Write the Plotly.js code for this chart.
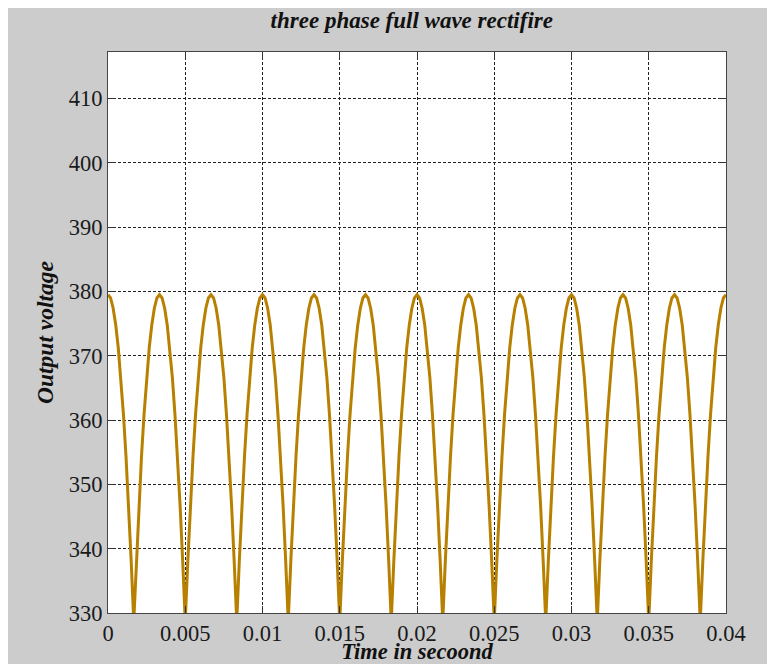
<!DOCTYPE html>
<html>
<head>
<meta charset="utf-8">
<script src="https://cdn.plot.ly/plotly-3.0.1.min.js"></script>
<style>
  html, body { margin: 0; padding: 0; background: #ffffff; }
  #chart { position: absolute; left: 8px; top: 8px; width: 759px; height: 656px; }
</style>
</head>
<body>
<div id="chart"></div>
<script>
// Sample time step (s): 20 samples per ripple period of the 6-pulse output
const sampleStep = 0.04 / 240;

// Output voltage samples (V), starting at t = 0
const outputVoltage = [
  379.5, 379.0, 377.4, 374.8, 371.2, 366.6, 360.9, 354.3, 346.7, 338.1, 328.7, 338.1, 346.7, 354.3, 360.9, 366.6, 371.2, 374.8, 377.4, 379.0,
  379.5, 379.0, 377.4, 374.8, 371.2, 366.6, 360.9, 354.3, 346.7, 338.1, 328.7, 338.1, 346.7, 354.3, 360.9, 366.6, 371.2, 374.8, 377.4, 379.0,
  379.5, 379.0, 377.4, 374.8, 371.2, 366.6, 360.9, 354.3, 346.7, 338.1, 328.7, 338.1, 346.7, 354.3, 360.9, 366.6, 371.2, 374.8, 377.4, 379.0,
  379.5, 379.0, 377.4, 374.8, 371.2, 366.6, 360.9, 354.3, 346.7, 338.1, 328.7, 338.1, 346.7, 354.3, 360.9, 366.6, 371.2, 374.8, 377.4, 379.0,
  379.5, 379.0, 377.4, 374.8, 371.2, 366.6, 360.9, 354.3, 346.7, 338.1, 328.7, 338.1, 346.7, 354.3, 360.9, 366.6, 371.2, 374.8, 377.4, 379.0,
  379.5, 379.0, 377.4, 374.8, 371.2, 366.6, 360.9, 354.3, 346.7, 338.1, 328.7, 338.1, 346.7, 354.3, 360.9, 366.6, 371.2, 374.8, 377.4, 379.0,
  379.5, 379.0, 377.4, 374.8, 371.2, 366.6, 360.9, 354.3, 346.7, 338.1, 328.7, 338.1, 346.7, 354.3, 360.9, 366.6, 371.2, 374.8, 377.4, 379.0,
  379.5, 379.0, 377.4, 374.8, 371.2, 366.6, 360.9, 354.3, 346.7, 338.1, 328.7, 338.1, 346.7, 354.3, 360.9, 366.6, 371.2, 374.8, 377.4, 379.0,
  379.5, 379.0, 377.4, 374.8, 371.2, 366.6, 360.9, 354.3, 346.7, 338.1, 328.7, 338.1, 346.7, 354.3, 360.9, 366.6, 371.2, 374.8, 377.4, 379.0,
  379.5, 379.0, 377.4, 374.8, 371.2, 366.6, 360.9, 354.3, 346.7, 338.1, 328.7, 338.1, 346.7, 354.3, 360.9, 366.6, 371.2, 374.8, 377.4, 379.0,
  379.5, 379.0, 377.4, 374.8, 371.2, 366.6, 360.9, 354.3, 346.7, 338.1, 328.7, 338.1, 346.7, 354.3, 360.9, 366.6, 371.2, 374.8, 377.4, 379.0,
  379.5, 379.0, 377.4, 374.8, 371.2, 366.6, 360.9, 354.3, 346.7, 338.1, 328.7, 338.1, 346.7, 354.3, 360.9, 366.6, 371.2, 374.8, 377.4, 379.0,
  379.5
];

const xTickVals = [0, 0.005, 0.01, 0.015, 0.02, 0.025, 0.03, 0.035, 0.04];
const xTickText = ['0', '0.005', '0.01', '0.015', '0.02', '0.025', '0.03', '0.035', '0.04'];
const yTickVals = [330, 340, 350, 360, 370, 380, 390, 400, 410];
const yTickText = ['330', '340', '350', '360', '370', '380', '390', '400', '410'];

const chartTitle = 'three phase full wave rectifire';
const xTitle = 'Time in secoond';
const yTitle = 'Output voltage';

const serif = '"Liberation Serif", "Times New Roman", serif';

const trace = {
  type: 'scatter',
  mode: 'lines',
  x0: 0,
  dx: sampleStep,
  y: outputVoltage,
  line: { color: 'rgb(184,128,0)', width: 3 },
  hoverinfo: 'skip'
};

const axisCommon = {
  showline: true,
  linecolor: '#444444',
  linewidth: 1,
  mirror: 'ticks',
  ticks: 'inside',
  ticklen: 7,
  tickwidth: 1,
  tickcolor: '#333333',
  showgrid: true,
  gridcolor: '#222222',
  gridwidth: 1,
  griddash: '3px,2px',
  zeroline: false,
  tickfont: { family: serif, size: 22.5, color: '#1a1a1a' }
};

const layout = {
  width: 759,
  height: 656,
  paper_bgcolor: '#cccccc',
  plot_bgcolor: '#ffffff',
  margin: { l: 100, r: 41, t: 44, b: 51, pad: 0 },
  showlegend: false,
  title: {
    text: '<b><i>' + chartTitle + '</i></b>',
    font: { family: serif, size: 23, color: '#111111' },
    xref: 'container', x: 0.532, xanchor: 'center',
    yref: 'container', y: 0.982, yanchor: 'middle'
  },
  xaxis: Object.assign({}, axisCommon, {
    range: [0, 0.04],
    tickmode: 'array',
    tickvals: xTickVals,
    ticktext: xTickText,
    title: { text: '<b><i>' + xTitle + '</i></b>', font: { family: serif, size: 22.5, color: '#111111' }, standoff: 5 }
  }),
  yaxis: Object.assign({}, axisCommon, {
    range: [330, 417.25],
    tickmode: 'array',
    tickvals: yTickVals,
    ticktext: yTickText,
    title: { text: '<b><i>' + yTitle + '</i></b>', font: { family: serif, size: 23.5, color: '#111111' }, standoff: 8 }
  })
};

Plotly.newPlot('chart', [trace], layout, { displayModeBar: false, staticPlot: true });
</script>
</body>
</html>
